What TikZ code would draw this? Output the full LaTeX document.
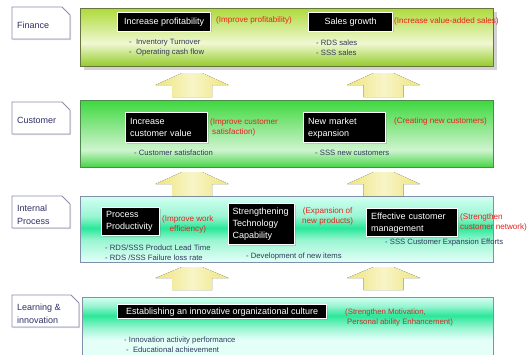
\documentclass[tikz,border=0pt]{standalone}
\usepackage{fontspec}
\setmainfont{Liberation Sans}
\usetikzlibrary{shadows}
\definecolor{myred}{HTML}{E8231E}
\definecolor{darkred}{HTML}{CC2E2A}
\definecolor{mynavy}{HTML}{2E3A5C}
\definecolor{tabblue}{HTML}{2F2F66}
\definecolor{tabedge}{HTML}{8C8CB0}
\definecolor{arrowedge}{HTML}{EEE57C}
\definecolor{arrowmid}{HTML}{F8F5C8}
\definecolor{finTop}{HTML}{AEDA3A}
\definecolor{finMid}{HTML}{F0F8D2}
\definecolor{finBot}{HTML}{94CB2A}
\definecolor{finEdge}{HTML}{66763E}
\definecolor{cusTop}{HTML}{3ED83E}
\definecolor{cusMid}{HTML}{CFF4CF}
\definecolor{cusBot}{HTML}{44D444}
\definecolor{cusEdge}{HTML}{4E8A4E}
\definecolor{intTop}{HTML}{D2FFF2}
\definecolor{intPeak}{HTML}{2AE89A}
\definecolor{intMid}{HTML}{9AF5D2}
\definecolor{intBot}{HTML}{E4FFF8}
\definecolor{intEdge}{HTML}{8090A8}
\pgfdeclareverticalshading{finsh}{100bp}{color(0bp)=(finBot); color(25bp)=(finBot); color(45bp)=(finMid); color(75bp)=(finTop); color(100bp)=(finTop)}
\pgfdeclareverticalshading{cussh}{100bp}{color(0bp)=(cusBot); color(25bp)=(cusBot); color(38bp)=(cusMid); color(75bp)=(cusTop); color(100bp)=(cusTop)}
\pgfdeclareverticalshading{intsh}{100bp}{color(0bp)=(intBot); color(25bp)=(intBot); color(42bp)=(intMid); color(51bp)=(intPeak); color(60bp)=(intMid); color(75bp)=(intTop); color(100bp)=(intTop)}
\pgfdeclareverticalshading{lrnsh}{100bp}{color(0bp)=(intBot); color(25bp)=(intBot); color(45bp)=(intBot); color(53bp)=(intMid); color(62bp)=(intPeak); color(69bp)=(intMid); color(75bp)=(intTop); color(100bp)=(intTop)}
\newcommand{\uparrowshape}[4]{%
  \fill[arrowfill] (#1-10,#2) -- (#1+10,#2) -- (#1+36.5,#3) -- (#1+20,#3) -- (#1+20,#4)
    -- (#1-20,#4) -- (#1-20,#3) -- (#1-36.5,#3) -- cycle;}
\begin{document}
\begin{tikzpicture}[x=1pt,y=-1pt,
  panel/.style={anchor=north west, line width=0.7pt, inner sep=0pt},
  blackbox/.style={fill=black, draw=white, line width=1.4pt, text=white,
    font=\fontsize{9}{12}\selectfont, inner xsep=4.5pt, inner ysep=0pt, anchor=north west,
    drop shadow={shadow xshift=1pt, shadow yshift=-1pt, opacity=0.3}},
  redtxt/.style={text=myred, font=\fontsize{8.1}{10}\selectfont, inner sep=0pt, anchor=west, align=left},
  smalltxt/.style={text=mynavy, font=\fontsize{7.7}{10}\selectfont, inner sep=0pt, anchor=west, align=left},
  tabtxt/.style={text=tabblue, font=\fontsize{9}{12.5}\selectfont, inner sep=0pt, anchor=west, align=left},
  tabline/.style={draw=tabedge, fill=white, line width=0.8pt,
    drop shadow={shadow xshift=1pt, shadow yshift=-1pt, opacity=0.25}},
  arrowfill/.style={left color=arrowedge, right color=arrowedge, middle color=arrowmid}
]
\useasboundingbox (0,0) rectangle (532,354);
\clip (0,0) rectangle (532,354);
\fill[white] (0,0) rectangle (532,354);

% panels
\node[panel, minimum width=413pt, minimum height=58pt, shading=finsh, draw=finEdge,
  drop shadow={shadow xshift=4pt, shadow yshift=-4pt, opacity=0.35}] (fin) at (80,8) {};
\node[panel, minimum width=413pt, minimum height=67pt, shading=cussh, draw=cusEdge] (cus) at (80,100) {};
\node[panel, minimum width=413pt, minimum height=66pt, shading=intsh, draw=intEdge] (int) at (80,196) {};
\node[panel, minimum width=411pt, minimum height=70pt, shading=lrnsh, draw=intEdge] (lrn) at (82,297) {};

% arrows
\uparrowshape{192}{73}{85}{97}
\uparrowshape{383.5}{73}{85}{97}
\uparrowshape{192}{172}{184}{196}
\uparrowshape{383.5}{172}{184}{196}
\uparrowshape{192}{267}{278}{290}
\uparrowshape{383.5}{267}{278}{290}

% tabs
\draw[tabline] (12,7) -- (62,7) -- (70,15) -- (70,39) -- (12,39) -- cycle;
\draw[tabline] (12,102) -- (62,102) -- (70,110) -- (70,134) -- (12,134) -- cycle;
\draw[tabline] (12,196) -- (62,196) -- (70,204) -- (70,228) -- (12,228) -- cycle;
\draw[tabline] (12,295) -- (71,295) -- (79,303) -- (79,327) -- (12,327) -- cycle;
\node[tabtxt] (tf) at (17,25) {Finance};
\node[tabtxt] (tc) at (17,120) {Customer};
\node[tabtxt] (ti) at (17,215) {Internal\\Process};
\node[tabtxt] (tl) at (17,314) {Learning \&\\innovation};

% black boxes
\node[blackbox, minimum width=93pt, minimum height=19pt, align=center] (ip) at (117,11.5) {Increase profitability};
\node[blackbox, minimum width=84pt, minimum height=19pt, align=center] (sg) at (308,11.5) {Sales growth};
\node[blackbox, text width=73pt, minimum height=30pt, align=left] (icv) at (125,112) {Increase\\customer value};
\node[blackbox, text width=73pt, minimum height=30pt, align=left] (nme) at (303,112) {New market\\expansion};
\node[blackbox, text width=49pt, minimum height=28pt, align=left] (pp) at (101,207) {Process\\Productivity};
\node[blackbox, inner xsep=4pt, text width=58pt, minimum height=41pt, align=left] (stc) at (228,203) {Strengthening\\Technology\\Capability};
\node[blackbox, text width=82pt, minimum height=28pt, align=left] (ecm) at (366,208) {Effective customer\\management};
\node[blackbox, minimum width=209pt, minimum height=14pt, align=center] (eio) at (117,304) {Establishing an innovative organizational culture};

% red notes
\node[redtxt] (r1) at (216,20.5) {(Improve profitability)};
\node[redtxt] (r2) at (394,21) {(Increase value-added sales)};
\node[redtxt] (r3) at (210,127) {(Improve customer\\\hspace{2pt}satisfaction)};
\node[redtxt] (r4) at (394,121) {(Creating new customers)};
\node[redtxt, align=center] (r5) at (162,224.5) {(Improve work\\efficiency)};
\node[redtxt, align=center] (r6) at (302,216) {(Expansion of\\new products)};
\node[redtxt] (r7) at (460,222.5) {(Strengthen\\customer network)};
\node[redtxt, text=darkred, font=\fontsize{7.8}{10}\selectfont] (r8) at (345,317) {(Strengthen Motivation,\\\hspace{2pt}Personal ability Enhancement)};

% indicators
\node[smalltxt] (f1) at (129,48) {- \ Inventory Turnover\\- \ Operating cash flow};
\node[smalltxt] (f2) at (316,48) {- RDS sales\\- SSS sales};
\node[smalltxt] (c1) at (134,153) {- Customer satisfaction};
\node[smalltxt] (c2) at (315,153) {- SSS new customers};
\node[smalltxt] (i1) at (105,252.5) {- RDS/SSS Product Lead Time\\- RDS /SSS Failure loss rate};
\node[smalltxt] (i2) at (246,257) {- Development of new items};
\node[smalltxt] (i3) at (385,242.5) {- SSS Customer Expansion Efforts};
\node[smalltxt, font=\fontsize{7.7}{9.5}\selectfont] (l1) at (124,344.5) {- Innovation activity performance\\\hspace{2pt}- \ Educational achievement};
\end{tikzpicture}
\end{document}
